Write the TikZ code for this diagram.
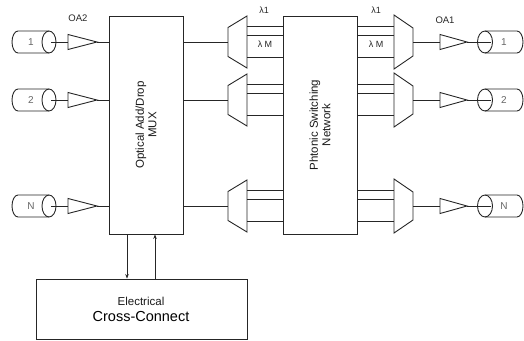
\documentclass[tikz,border=0pt]{standalone}
\usepackage{fontspec}
\setmainfont{Liberation Sans}
\usetikzlibrary{arrows.meta}
\begin{document}
\begin{tikzpicture}[x=1pt,y=1pt,line width=0.9pt,
  ln/.style={draw=black!85},
  box/.style={draw=black!85,rectangle,inner sep=0pt},
  boxtxt/.style={font=\fontsize{11.5}{12.5}\selectfont,align=center,text=black!90},
  lbl/.style={font=\fontsize{9.5}{10}\selectfont,text=black!85,inner sep=0pt},
  small/.style={font=\fontsize{9}{10}\selectfont,text=black!85,inner sep=0pt},
  num/.style={font=\fontsize{10}{11}\selectfont,text=black!60,inner sep=0pt},
  arr/.style={draw=black!85,-{Stealth[length=4.5pt,width=3.5pt]}}]
\useasboundingbox (0,0) rectangle (524,-340);

% main boxes
\node[box,minimum width=74pt,minimum height=218pt] (mux) at (146,-125) {};
\node[boxtxt,rotate=90] (muxtxt) at (mux.center) {Optical Add/Drop\\MUX};
\node[box,minimum width=74pt,minimum height=218pt] (sw) at (320,-125) {};
\node[boxtxt,rotate=90] (swtxt) at (sw.center) {Phtonic Switching\\Network};
\node[box,minimum width=211pt,minimum height=60pt] (xc) at (141.5,-309) {};
\node[inner sep=0pt,font=\fontsize{11.5}{12}\selectfont,text=black!90] (xc1) at (141,-301.5) {Electrical};
\node[inner sep=0pt,font=\fontsize{14.5}{15}\selectfont,text=black] (xc2) at (141,-317) {Cross-Connect};

% arrows between MUX and cross-connect
\coordinate (d1) at (127,0);
\coordinate (u1) at (155,0);
\draw[arr] (mux.south -| d1) -- (xc.north -| d1);
\draw[arr] (xc.north -| u1) -- (mux.south -| u1);

% labels
\node[lbl] (oa2) at (78,-18) {OA2};
\node[lbl] (oa1) at (445,-20) {OA1};
\node[small] (l1a) at (264,-10) {λ1};
\node[small] (lma) at (265,-44) {λ M};
\node[small] (l1b) at (376,-10) {λ1};
\node[small] (lmb) at (376,-44) {λ M};

\foreach \Y/\t/\n in {-42/1/a,-100/2/b,-206/N/c}{
  % left cylinder
  \draw[ln] (49,\Y+11) -- (18,\Y+11) arc[start angle=90,end angle=270,x radius=6,y radius=11] -- (49,\Y-11);
  \draw[ln] (49,\Y) ellipse[x radius=7,y radius=11];
  \node[num] (inL\n) at (31,\Y) {\t};
  \coordinate (cL\n) at (51,\Y);
  % left amplifier
  \coordinate (aLi\n) at (68,\Y);
  \coordinate (aLo\n) at (97,\Y);
  \draw[ln] (68,\Y+7.5) -- (97,\Y) -- (68,\Y-7.5) -- cycle;
  \draw[ln] (cL\n) -- (aLi\n);
  \draw[ln] (aLo\n) -- (mux.west |- aLo\n);
  % demux
  \coordinate (dmi\n) at (228,\Y);
  \draw[ln] (mux.east |- dmi\n) -- (dmi\n);
  \draw[ln] (228,\Y+14.5) -- (247,\Y+26) -- (247,\Y-26) -- (228,\Y-14.5) -- cycle;
  \coordinate (dm1\n) at (247,\Y+16);
  \coordinate (dm2\n) at (247,\Y+7);
  \coordinate (dm3\n) at (247,\Y-15);
  \draw[ln] (dm1\n) -- (sw.west |- dm1\n);
  \draw[ln] (dm2\n) -- (sw.west |- dm2\n);
  \draw[ln] (dm3\n) -- (sw.west |- dm3\n);
  % mux (right)
  \draw[ln] (394,\Y+27) -- (413,\Y+14) -- (413,\Y-14) -- (394,\Y-27) -- cycle;
  \coordinate (mx1\n) at (394,\Y+16);
  \coordinate (mx2\n) at (394,\Y+7);
  \coordinate (mx3\n) at (394,\Y-15);
  \draw[ln] (sw.east |- mx1\n) -- (mx1\n);
  \draw[ln] (sw.east |- mx2\n) -- (mx2\n);
  \draw[ln] (sw.east |- mx3\n) -- (mx3\n);
  \coordinate (mo\n) at (413,\Y);
  % right amplifier
  \coordinate (aRi\n) at (440,\Y);
  \coordinate (aRo\n) at (467,\Y);
  \draw[ln] (440,\Y+7.5) -- (467,\Y) -- (440,\Y-7.5) -- cycle;
  \draw[ln] (mo\n) -- (aRi\n);
  % right cylinder
  \draw[ln] (485,\Y+11) -- (517,\Y+11) arc[start angle=90,end angle=-90,x radius=6,y radius=11] -- (485,\Y-11);
  \draw[ln] (485,\Y) ellipse[x radius=7.5,y radius=11];
  \node[num] (inR\n) at (504,\Y) {\t};
  \coordinate (cR\n) at (491,\Y);
  \draw[ln] (aRo\n) -- (cR\n);
}
\end{tikzpicture}
\end{document}
